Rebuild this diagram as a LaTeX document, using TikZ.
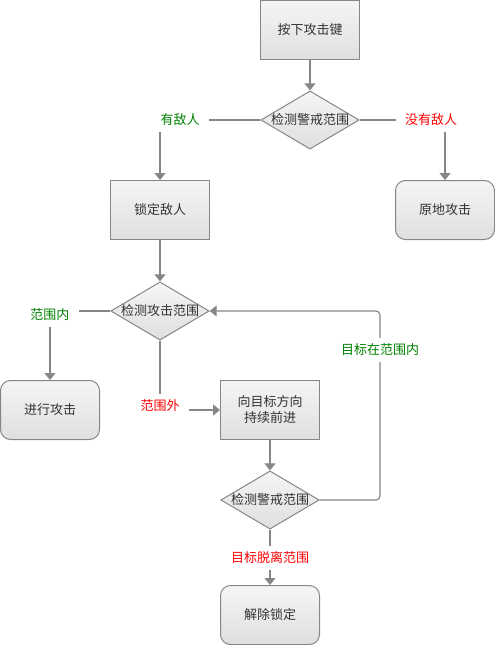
\documentclass[tikz,border=0pt]{standalone}
\usepackage{fontspec}
\setmainfont{Noto Sans CJK SC}
\usetikzlibrary{arrows.meta,shapes.geometric}
\definecolor{boxtop}{HTML}{F5F5F5}
\definecolor{boxbot}{HTML}{DFDFDF}
\definecolor{edge}{HTML}{868686}
\definecolor{ink}{HTML}{333333}
\definecolor{yesgreen}{HTML}{008000}
\definecolor{nored}{HTML}{FF0000}
\tikzset{
	box/.style={draw=edge, line width=1pt, top color=boxtop, bottom color=boxbot, minimum width=99pt, minimum height=59pt, text=ink, align=center, font=\fontsize{13}{16}\selectfont},
	endbox/.style={box, rounded corners=10pt},
	check/.style={box, diamond, aspect=1.69, inner sep=0pt, minimum width=98pt, minimum height=58pt},
	tag/.style={inner xsep=9pt, inner ysep=6pt, font=\fontsize{13}{16}\selectfont},
	wire/.style={draw=edge, line width=1.2pt},
	arr/.style={wire, -{Triangle[width=11pt,length=7pt]}}
}

\begin{document}
\begin{tikzpicture}[x=1pt, y=-1pt]
			%%%%% START %%%%%
			\useasboundingbox (0, 0) rectangle (495, 645);
			
			\node[box] (press) at (310, 30) {按下攻击键};
			\node[check] (scan) at (310, 120) {检测警戒范围};
			\node[tag, text=yesgreen] (found) at (180, 120) {有敌人};
			\node[tag, text=nored] (none) at (431, 120) {没有敌人};
			\node[box] (lock) at (160, 210) {锁定敌人};
			\node[endbox] (stay) at (445, 210) {原地攻击};
			
			\node[check] (reach) at (160, 311) {检测攻击范围};
			\node[tag, text=yesgreen] (inside) at (50, 315) {范围内};
			\node[endbox] (hit) at (50, 410) {进行攻击};
			\node[tag, text=nored] (outside) at (160, 406) {范围外};
			\node[box] (chase) at (270, 410) {向目标方向\\持续前进};
			
			\node[check] (rescan) at (270, 500) {检测警戒范围};
			\node[tag, text=yesgreen] (back) at (380, 350) {目标在范围内};
			\node[tag, text=nored] (lost) at (270, 558) {目标脱离范围};
			\node[endbox] (unlock) at (270, 615) {解除锁定};
			
			\draw[arr] (press) -- (scan);
			\draw[wire] (scan) -- (found.east |- scan);
			\draw[arr] (found.south -| lock) -- (lock);
			\draw[wire] (scan) -- (none.west |- scan);
			\draw[arr] (none.south -| stay) -- (stay);
			
			\draw[arr] (lock) -- (reach);
			\draw[wire] (reach) -- (inside.east |- reach);
			\draw[arr] (inside.south -| hit) -- (hit);
			\draw[wire] (reach.south) -- (outside.north);
			\draw[arr] (outside.east |- chase) -- (chase);
			
			\draw[arr] (chase) -- (rescan);
			\draw[wire, rounded corners=4pt] (rescan.east) -| (back.south);
			\draw[arr, rounded corners=4pt] (back.north) |- (reach.east);
			\draw[wire] (rescan.south) -- (lost.north);
			\draw[arr] (lost) -- (unlock);
			%%%%% END %%%%%
\end{tikzpicture}
\end{document}
